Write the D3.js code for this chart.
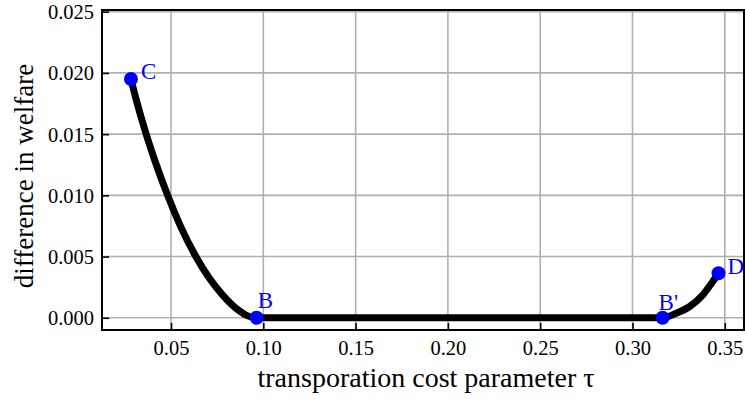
<!DOCTYPE html>
<html>
<head>
<meta charset="utf-8">
<script src="https://cdn.jsdelivr.net/npm/d3@7"></script>
<style>
  html, body { margin: 0; padding: 0; background: #fff; }
  svg { display: block; font-family: "Liberation Serif", "Times New Roman", serif; }
</style>
</head>
<body>
<svg id="chart" width="745" height="399"></svg>
<script>
// Welfare difference as a function of the transportation cost parameter τ
const tau = [0.0283, 0.0312, 0.0364, 0.0419, 0.0481, 0.0550, 0.0633, 0.0708, 0.0780, 0.0852, 0.0906, 0.0964,
             0.15, 0.20, 0.25, 0.30, 0.3163, 0.3236, 0.3308, 0.3380, 0.3434, 0.3466];
const welfareDiff = [0.01950, 0.01779, 0.01507, 0.01256, 0.01002, 0.00753, 0.00504, 0.00322, 0.00185, 0.00077, 0.00022, 0.0,
                     0.0, 0.0, 0.0, 0.0, 0.0, 0.00036, 0.00090, 0.00185, 0.00294, 0.00363];

// Marked points
const pointNames = ["C", "B", "B'", "D"];
const pointTau = [0.0283, 0.0964, 0.3163, 0.3466];
const pointDiff = [0.01950, 0.0, 0.0, 0.00363];

const xTicks = [0.05, 0.10, 0.15, 0.20, 0.25, 0.30, 0.35];
const yTicks = [0.000, 0.005, 0.010, 0.015, 0.020, 0.025];

const svg = d3.select("#chart");
const plotLeft = 102, plotRight = 744, plotTop = 10, plotBottom = 330;

const x = d3.scaleLinear().domain([0.01262, 0.3604]).range([plotLeft, plotRight]);
const y = d3.scaleLinear().domain([-0.00100, 0.02514]).range([plotBottom, plotTop]);

// grid
const grid = svg.append("g");
grid.selectAll(".gx").data(xTicks).join("line")
  .attr("x1", d => x(d)).attr("x2", d => x(d))
  .attr("y1", plotTop).attr("y2", plotBottom)
  .attr("stroke", "#b0b0b0").attr("stroke-width", 1.6);
grid.selectAll(".gy").data(yTicks).join("line")
  .attr("x1", plotLeft).attr("x2", plotRight)
  .attr("y1", d => y(d)).attr("y2", d => y(d))
  .attr("stroke", "#b0b0b0").attr("stroke-width", 1.6);

// axes with inward ticks
const xAxis = svg.append("g").attr("transform", `translate(0,${plotBottom})`)
  .call(d3.axisBottom(x).tickValues(xTicks).tickFormat(d3.format(".2f")).tickSizeInner(-7).tickSizeOuter(0).tickPadding(10));
const yAxis = svg.append("g").attr("transform", `translate(${plotLeft},0)`)
  .call(d3.axisLeft(y).tickValues(yTicks).tickFormat(d3.format(".3f")).tickSizeInner(-7).tickSizeOuter(0).tickPadding(8));
[xAxis, yAxis].forEach(g => {
  g.attr("font-family", null);
  g.select(".domain").remove();
  g.selectAll(".tick line").attr("stroke", "#000").attr("stroke-width", 1.6);
  g.selectAll(".tick text").attr("fill", "#000").attr("font-size", 20.5)
    .attr("font-family", "Liberation Serif, serif");
});
yAxis.selectAll(".tick text").attr("dy", "0.34em");

// frame
svg.append("rect")
  .attr("x", plotLeft).attr("y", plotTop)
  .attr("width", plotRight - plotLeft).attr("height", plotBottom - plotTop)
  .attr("fill", "none").attr("stroke", "#000").attr("stroke-width", 2);

// curve
const line = d3.line()
  .x((d, i) => x(tau[i]))
  .y((d, i) => y(welfareDiff[i]))
  .curve(d3.curveMonotoneX);
svg.append("path")
  .attr("d", line(tau))
  .attr("fill", "none")
  .attr("stroke", "#000")
  .attr("stroke-width", 7)
  .attr("stroke-linejoin", "round");

// marked points and their labels
const labelDx = [10, 1, -4, 9];
const labelDy = [0, -10, -8, 1];
svg.selectAll(".pt").data(pointNames).join("circle")
  .attr("cx", (d, i) => x(pointTau[i]))
  .attr("cy", (d, i) => y(pointDiff[i]))
  .attr("r", 7)
  .attr("fill", "#0000ff");
svg.selectAll(".lbl").data(pointNames).join("text")
  .attr("x", (d, i) => x(pointTau[i]) + labelDx[i])
  .attr("y", (d, i) => y(pointDiff[i]) + labelDy[i])
  .attr("fill", "#0000ff")
  .attr("font-size", 23)
  .text(d => d);

// axis titles
svg.append("text")
  .attr("x", 426).attr("y", 387)
  .attr("text-anchor", "middle")
  .attr("font-size", 28)
  .text("transporation cost parameter τ");
svg.append("text")
  .attr("transform", "translate(33,176) rotate(-90)")
  .attr("text-anchor", "middle")
  .attr("font-size", 27)
  .text("difference in welfare");
</script>
</body>
</html>
